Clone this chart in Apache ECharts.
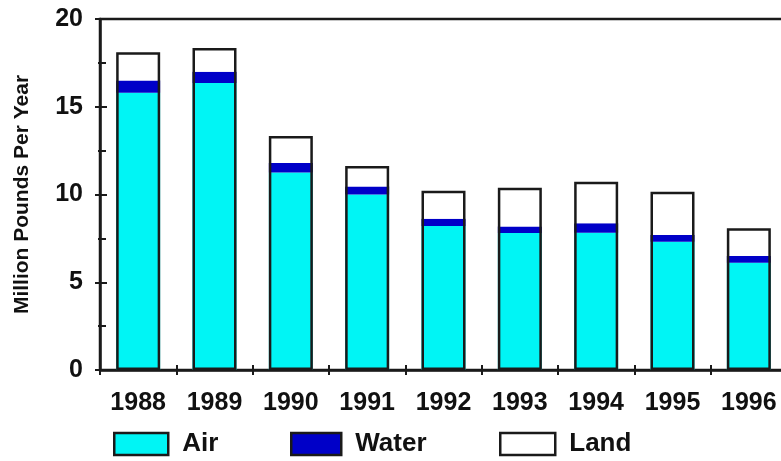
<!DOCTYPE html>
<html>
<head>
<meta charset="utf-8">
<script src="https://cdn.jsdelivr.net/npm/echarts@6/dist/echarts.min.js"></script>
<style>
html,body{margin:0;padding:0;background:#fff;}
#chart{width:781px;height:461px;}
</style>
</head>
<body>
<div id="chart"></div>
<script>
const years = ['1988','1989','1990','1991','1992','1993','1994','1995','1996'];
const air   = [15.8, 16.35, 11.25, 10.0, 8.2, 7.8, 7.82, 7.31, 6.11];
const water = [0.7, 0.65, 0.55, 0.45, 0.42, 0.37, 0.54, 0.38, 0.39];
const land  = [1.6, 1.35, 1.53, 1.17, 1.6, 2.22, 2.37, 2.47, 1.57];
const yTicks = [0, 5, 10, 15, 20];
const yTitle = 'Million Pounds Per Year';

const totals = air.map((a, i) => a + water[i] + land[i]);
const FONT = "'Liberation Sans', Arial, Helvetica, sans-serif";
const INK = '#1a1a1a';

const chart = echarts.init(document.getElementById('chart'));
const legendBase = {
  orient: 'horizontal', top: 426, itemHeight: 22, selectedMode: false, icon: 'rect',
  itemStyle: { borderColor: INK, borderWidth: 2.5 },
  textStyle: { fontFamily: FONT, fontWeight: 'bold', fontSize: 26, color: '#111', padding: [0, 0, 0, 9] }
};
chart.setOption({
  animation: false,
  backgroundColor: '#fff',
  grid: { left: 100, width: 687, top: 19, bottom: 91, outerBoundsMode: 'none', containLabel: false,
          show: true, borderColor: INK, borderWidth: 2.5, backgroundColor: 'transparent' },
  legend: [
    Object.assign({}, legendBase, { left: 108, itemWidth: 54, data: ['Air'] }),
    Object.assign({}, legendBase, { left: 285, itemWidth: 50, data: ['Water'] }),
    Object.assign({}, legendBase, { left: 494, itemWidth: 55, data: ['Land'] })
  ],
  xAxis: [
    { type: 'category', data: years, position: 'bottom',
      axisLine: { show: true, lineStyle: { color: INK, width: 2.5 } },
      axisTick: { show: true, inside: false, length: 5, lineStyle: { color: INK, width: 2 } },
      axisLabel: { margin: 21, fontFamily: FONT, fontWeight: 'bold', fontSize: 25, color: '#111' },
      splitLine: { show: false } },
    { type: 'category', data: years, position: 'bottom',
      axisLine: { show: false },
      axisTick: { show: true, inside: true, length: 5, lineStyle: { color: INK, width: 2 } },
      axisLabel: { show: false }, splitLine: { show: false } }
  ],
  yAxis: [
    { type: 'value', min: yTicks[0], max: yTicks[yTicks.length - 1], interval: 5, position: 'left',
      name: yTitle, nameLocation: 'middle', nameGap: 67, nameRotate: 90,
      nameTextStyle: { fontFamily: FONT, fontWeight: 'bold', fontSize: 21, color: '#111' },
      axisLine: { show: true, lineStyle: { color: INK, width: 2.5 } },
      axisTick: { show: true, inside: false, length: 5, lineStyle: { color: INK, width: 2 } },
      minorTick: { show: true, splitNumber: 2, length: 2, lineStyle: { color: INK, width: 2 } },
      axisLabel: { margin: 17, fontFamily: FONT, fontWeight: 'bold', fontSize: 25, color: '#111' },
      splitLine: { show: false } },
    { type: 'value', min: yTicks[0], max: yTicks[yTicks.length - 1], interval: 5, position: 'left',
      axisLine: { show: false },
      axisTick: { show: true, inside: true, length: 7, lineStyle: { color: INK, width: 2 } },
      minorTick: { show: true, splitNumber: 2, length: 6, lineStyle: { color: INK, width: 2 } },
      axisLabel: { show: false }, splitLine: { show: false } }
  ],
  series: [
    { name: 'Air', type: 'bar', stack: 'rel', data: air, barWidth: 44, barGap: '-100%',
      itemStyle: { color: '#00f5f5', borderWidth: 0 } },
    { name: 'Water', type: 'bar', stack: 'rel', data: water, barWidth: 44, barGap: '-100%',
      itemStyle: { color: '#0000c8', borderWidth: 0 } },
    { name: 'Land', type: 'bar', stack: 'rel', data: land, barWidth: 44, barGap: '-100%',
      itemStyle: { color: '#ffffff', borderWidth: 0 } },
    { name: 'outline', type: 'bar', data: totals, barWidth: 44, barGap: '-100%', silent: true, z: 10,
      itemStyle: { color: 'rgba(0,0,0,0)', borderColor: INK, borderWidth: 2.5 } }
  ]
});
</script>
</body>
</html>
